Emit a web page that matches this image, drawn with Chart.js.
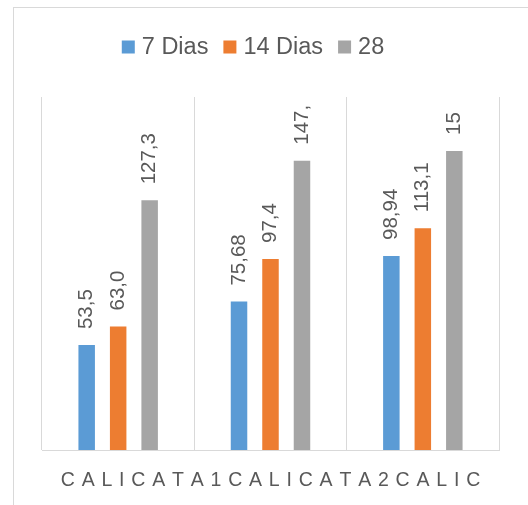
<!DOCTYPE html>
<html>
<head>
<meta charset="utf-8">
<title>Calicatas</title>
<script src="https://cdn.jsdelivr.net/npm/chart.js@4/dist/chart.umd.min.js"></script>
<style>
  html, body { margin: 0; padding: 0; background: #fff; }
  #wrap { position: relative; width: 528px; height: 505px; overflow: hidden; }
  #frame {
    position: absolute; left: 13px; top: 7px; width: 600px; height: 600px;
    border-left: 1px solid #d9d9d9; border-top: 1px solid #d9d9d9;
  }
  #chart { position: absolute; left: 0; top: 0; }
</style>
</head>
<body>
<div id="wrap">
  <div id="frame"></div>
  <canvas id="chart" width="528" height="505"></canvas>
</div>
<script>
// ── Data ─────────────────────────────────────────────────────────────
const CATEGORIES = ['CALICATA1', 'CALICATA2', 'CALIC'];
const SERIES_NAMES = ['7 Dias', '14 Dias', '28'];

const DIAS_7  = [53.5, 75.68, 98.94];
const DIAS_14 = [63.0, 97.4, 113.1];
const DIAS_28 = [127.3, 147.5, 152.5];

// label text as printed on the chart (some are clipped in the original)
const LABELS_7  = ['53,5', '75,68', '98,94'];
const LABELS_14 = ['63,0', '97,4', '113,1'];
const LABELS_28 = ['127,3', '147,', '15'];

const Y_MAX = 180;

// ── Style ────────────────────────────────────────────────────────────
const COLORS    = ['#5b9bd5', '#ed7d31', '#a5a5a5'];
const TEXT_GRAY = '#595959';
const GRID_GRAY = '#d9d9d9';
const FONT      = '"Liberation Sans", Arial, sans-serif';

// ── Plugins ──────────────────────────────────────────────────────────
// Excel style legend: small square sitting on the baseline, short gap, text
const legendPlugin = {
  id: 'xlLegend',
  afterDraw(chart) {
    const ctx = chart.ctx;
    const box = 13, textGap = 7, itemGap = 15, centerX = 253, baseline = 54;
    ctx.save();
    ctx.font = '23.5px ' + FONT;
    ctx.textBaseline = 'alphabetic';
    const items = chart.data.datasets.map(ds => ({
      label: ds.label, color: ds.backgroundColor,
      w: box + textGap + ctx.measureText(ds.label).width,
    }));
    const total = items.reduce((s, it) => s + it.w, 0) + itemGap * (items.length - 1);
    let x = centerX - total / 2;
    items.forEach(it => {
      ctx.fillStyle = it.color;
      ctx.fillRect(x, baseline - box - 0.5, box, box);
      ctx.fillStyle = TEXT_GRAY;
      ctx.fillText(it.label, x + box + textGap, baseline);
      x += it.w + itemGap;
    });
    ctx.restore();
  },
};

// vertical value labels above each bar
const valueLabelPlugin = {
  id: 'valueLabels',
  afterDatasetsDraw(chart) {
    const ctx = chart.ctx;
    ctx.save();
    ctx.font = '20.5px ' + FONT;
    ctx.fillStyle = TEXT_GRAY;
    ctx.textAlign = 'left';
    ctx.textBaseline = 'middle';
    chart.data.datasets.forEach((ds, i) => {
      chart.getDatasetMeta(i).data.forEach((bar, j) => {
        ctx.save();
        ctx.translate(bar.x, bar.y - 16);
        ctx.rotate(-Math.PI / 2);
        ctx.fillText(ds.valueLabels[j], 0, 0);
        ctx.restore();
      });
    });
    ctx.restore();
  },
};

// category names run together with wide letter spacing, centred on the axis
const categoryPlugin = {
  id: 'spacedCategories',
  afterDraw(chart) {
    const ctx = chart.ctx;
    const area = chart.chartArea;
    const spacing = 6.8;
    const text = chart.data.labels.join('');
    ctx.save();
    ctx.font = '19.5px ' + FONT;
    ctx.fillStyle = TEXT_GRAY;
    ctx.textBaseline = 'alphabetic';
    const widths = [...text].map(c => ctx.measureText(c).width);
    const total = widths.reduce((a, b) => a + b, 0) + spacing * (text.length - 1);
    let x = (area.left + area.right) / 2 - total / 2;
    [...text].forEach((c, k) => {
      ctx.fillText(c, x, area.bottom + 35.5);
      x += widths[k] + spacing;
    });
    ctx.restore();
  },
};

// ── Chart ────────────────────────────────────────────────────────────
const seriesValues = [DIAS_7, DIAS_14, DIAS_28];
const seriesLabels = [LABELS_7, LABELS_14, LABELS_28];

new Chart(document.getElementById('chart').getContext('2d'), {
  type: 'bar',
  data: {
    labels: CATEGORIES,
    datasets: SERIES_NAMES.map((name, i) => ({
      label: name,
      data: seriesValues[i],
      valueLabels: seriesLabels[i],
      backgroundColor: COLORS[i],
      borderWidth: 0,
      categoryPercentage: 0.62,
      barPercentage: 0.524,
    })),
  },
  options: {
    responsive: false,
    animation: false,
    layout: { padding: { left: 42, right: 29, top: 97, bottom: 55 } },
    plugins: {
      legend: { display: false },
      tooltip: { enabled: false },
    },
    scales: {
      x: {
        grid: { color: GRID_GRAY, lineWidth: 1, drawTicks: false, offset: true },
        border: { display: true, color: GRID_GRAY, width: 1 },
        ticks: { display: false },
      },
      y: {
        display: false,
        min: 0,
        max: Y_MAX,
      },
    },
  },
  plugins: [legendPlugin, valueLabelPlugin, categoryPlugin],
});
</script>
</body>
</html>
